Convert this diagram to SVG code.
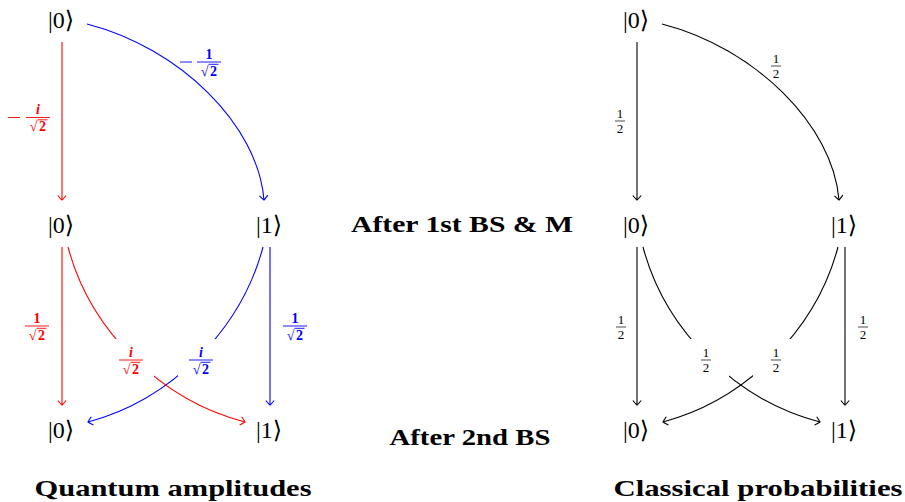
<svg xmlns="http://www.w3.org/2000/svg" width="905" height="502" viewBox="0 0 905 502">
<style>
.ket{font-family:"Liberation Serif","DejaVu Serif",serif;font-size:24px;text-anchor:middle;fill:#000}
.title{font-family:"Liberation Serif","DejaVu Serif",serif;font-weight:bold;font-size:23px;text-anchor:middle;fill:#000}
.fr{font-family:"Liberation Serif","DejaVu Serif",serif;font-size:13px;text-anchor:middle}
.frb{font-family:"Liberation Serif","DejaVu Serif",serif;font-size:14px;font-weight:bold;text-anchor:middle}
.red{fill:#f00}.blue{fill:#00f}.blk{fill:#000}
.lr{stroke:#f00;fill:none;stroke-width:1.1}
.lb{stroke:#00f;fill:none;stroke-width:1.1}
.lk{stroke:#000;fill:none;stroke-width:1.1}
.barr{stroke:#f00;stroke-width:0.9}.barb{stroke:#00f;stroke-width:0.9}.bark{stroke:#000;stroke-width:0.7}
.bg{fill:#fff;stroke:none}
</style>
<defs>
<marker id="ar" markerUnits="userSpaceOnUse" markerWidth="12" markerHeight="12" viewBox="-6 -6 7 12" refX="0" refY="0" orient="auto"><path d="M-4.5,-4.2 Q-1,-1.2 0,0 Q-1,1.2 -4.5,4.2" fill="none" stroke="#f00" stroke-width="1.1"/></marker>
<marker id="ab" markerUnits="userSpaceOnUse" markerWidth="12" markerHeight="12" viewBox="-6 -6 7 12" refX="0" refY="0" orient="auto"><path d="M-4.5,-4.2 Q-1,-1.2 0,0 Q-1,1.2 -4.5,4.2" fill="none" stroke="#00f" stroke-width="1.1"/></marker>
<marker id="ak" markerUnits="userSpaceOnUse" markerWidth="12" markerHeight="12" viewBox="-6 -6 7 12" refX="0" refY="0" orient="auto"><path d="M-4.5,-4.2 Q-1,-1.2 0,0 Q-1,1.2 -4.5,4.2" fill="none" stroke="#000" stroke-width="1.1"/></marker>
</defs>

<g id="connectors">
  <path class="lr" d="M62,42 L62,200" marker-end="url(#ar)"/>
  <path class="lb" d="M87,24 C180,48 258,125 264,200" marker-end="url(#ab)"/>
  <path class="lr" d="M62,247 L62,405" marker-end="url(#ar)"/>
  <path class="lb" d="M270,247 L270,405" marker-end="url(#ab)"/>
  <path class="lb" d="M263,247 C241,330 171,400 88,422" marker-end="url(#ab)"/>
  <path class="lr" d="M68,247 C90,330 160,400 245,422" marker-end="url(#ar)"/>

  <path class="lk" d="M637,42 L637,200" marker-end="url(#ak)"/>
  <path class="lk" d="M662,24 C755,48 833,125 839,200" marker-end="url(#ak)"/>
  <path class="lk" d="M637,247 L637,405" marker-end="url(#ak)"/>
  <path class="lk" d="M845,247 L845,405" marker-end="url(#ak)"/>
  <path class="lk" d="M838,247 C816,330 746,400 663,422" marker-end="url(#ak)"/>
  <path class="lk" d="M643,247 C665,330 735,400 820,422" marker-end="url(#ak)"/>
</g>

<g id="labels">
  <g id="lbl-mi" transform="translate(38,117.5)">
    <line class="barr" x1="-30" y1="0" x2="-18" y2="0"/>
    <text class="frb red" x="0" y="-3.5" font-style="italic">i</text>
    <line class="barr" x1="-12" y1="0" x2="12" y2="0"/>
    <text class="frb red" x="-4.5" y="13.5">√</text><text class="frb red" x="4.5" y="13.5">2</text>
    <line class="barr" x1="-0.5" y1="2.3" x2="9.5" y2="2.3"/>
  </g>
  <g id="lbl-m1" transform="translate(209,62)">
    <line class="barb" x1="-29" y1="0" x2="-17" y2="0"/>
    <text class="frb blue" x="0" y="-3.5">1</text>
    <line class="barb" x1="-12" y1="0" x2="12" y2="0"/>
    <text class="frb blue" x="-4.5" y="13.5">√</text><text class="frb blue" x="4.5" y="13.5">2</text>
    <line class="barb" x1="-0.5" y1="2.3" x2="9.5" y2="2.3"/>
  </g>
  <g id="lbl-r1" transform="translate(37,326)">
    <text class="frb red" x="0" y="-3.5">1</text>
    <line class="barr" x1="-12" y1="0" x2="12" y2="0"/>
    <text class="frb red" x="-4.5" y="13.5">√</text><text class="frb red" x="4.5" y="13.5">2</text>
    <line class="barr" x1="-0.5" y1="2.3" x2="9.5" y2="2.3"/>
  </g>
  <g id="lbl-b1" transform="translate(295,326)">
    <text class="frb blue" x="0" y="-3.5">1</text>
    <line class="barb" x1="-12" y1="0" x2="12" y2="0"/>
    <text class="frb blue" x="-4.5" y="13.5">√</text><text class="frb blue" x="4.5" y="13.5">2</text>
    <line class="barb" x1="-0.5" y1="2.3" x2="9.5" y2="2.3"/>
  </g>
  <g id="lbl-ri" transform="translate(131,360)">
    <rect class="bg" x="-19" y="-21" width="42" height="42"/>
    <text class="frb red" x="0" y="-3.5" font-style="italic">i</text>
    <line class="barr" x1="-12" y1="0" x2="12" y2="0"/>
    <text class="frb red" x="-4.5" y="13.5">√</text><text class="frb red" x="4.5" y="13.5">2</text>
    <line class="barr" x1="-0.5" y1="2.3" x2="9.5" y2="2.3"/>
  </g>
  <g id="lbl-bi" transform="translate(201,360)">
    <rect class="bg" x="-23" y="-21" width="42" height="42"/>
    <text class="frb blue" x="0" y="-3.5" font-style="italic">i</text>
    <line class="barb" x1="-12" y1="0" x2="12" y2="0"/>
    <text class="frb blue" x="-4.5" y="13.5">√</text><text class="frb blue" x="4.5" y="13.5">2</text>
    <line class="barb" x1="-0.5" y1="2.3" x2="9.5" y2="2.3"/>
  </g>

  <g id="lbl-k1" transform="translate(620,121)">
    <text class="fr blk" y="-3">1</text><line class="bark" x1="-5" y1="0" x2="5" y2="0"/><text class="fr blk" y="12">2</text>
  </g>
  <g id="lbl-k2" transform="translate(776,66)">
    <text class="fr blk" y="-3">1</text><line class="bark" x1="-5" y1="0" x2="5" y2="0"/><text class="fr blk" y="12">2</text>
  </g>
  <g id="lbl-k3" transform="translate(621,327)">
    <text class="fr blk" y="-3">1</text><line class="bark" x1="-5" y1="0" x2="5" y2="0"/><text class="fr blk" y="12">2</text>
  </g>
  <g id="lbl-k4" transform="translate(863,327)">
    <text class="fr blk" y="-3">1</text><line class="bark" x1="-5" y1="0" x2="5" y2="0"/><text class="fr blk" y="12">2</text>
  </g>
  <g id="lbl-k5" transform="translate(706,360)">
    <rect class="bg" x="-19" y="-21" width="42" height="42"/>
    <text class="fr blk" y="-3">1</text><line class="bark" x1="-5" y1="0" x2="5" y2="0"/><text class="fr blk" y="12">2</text>
  </g>
  <g id="lbl-k6" transform="translate(776,360)">
    <rect class="bg" x="-23" y="-21" width="42" height="42"/>
    <text class="fr blk" y="-3">1</text><line class="bark" x1="-5" y1="0" x2="5" y2="0"/><text class="fr blk" y="12">2</text>
  </g>
</g>

<g id="q-top0"><text class="ket" x="61" y="28">|0⟩</text></g>
<g id="q-mid0"><text class="ket" x="61" y="233">|0⟩</text></g>
<g id="q-mid1"><text class="ket" x="269" y="233">|1⟩</text></g>
<g id="q-bot0"><text class="ket" x="61" y="438">|0⟩</text></g>
<g id="q-bot1"><text class="ket" x="269" y="438">|1⟩</text></g>

<g id="c-top0"><text class="ket" x="636" y="28">|0⟩</text></g>
<g id="c-mid0"><text class="ket" x="636" y="233">|0⟩</text></g>
<g id="c-mid1"><text class="ket" x="844" y="233">|1⟩</text></g>
<g id="c-bot0"><text class="ket" x="636" y="438">|0⟩</text></g>
<g id="c-bot1"><text class="ket" x="844" y="438">|1⟩</text></g>

<g id="titles">
  <text class="title" x="462" y="232" textLength="222" lengthAdjust="spacingAndGlyphs">After 1st BS &amp; M</text>
  <text class="title" x="470" y="445" textLength="161" lengthAdjust="spacingAndGlyphs">After 2nd BS</text>
  <text class="title" x="173" y="496" textLength="277" lengthAdjust="spacingAndGlyphs">Quantum amplitudes</text>
  <text class="title" x="758" y="496" textLength="289" lengthAdjust="spacingAndGlyphs">Classical probabilities</text>
</g>
</svg>
